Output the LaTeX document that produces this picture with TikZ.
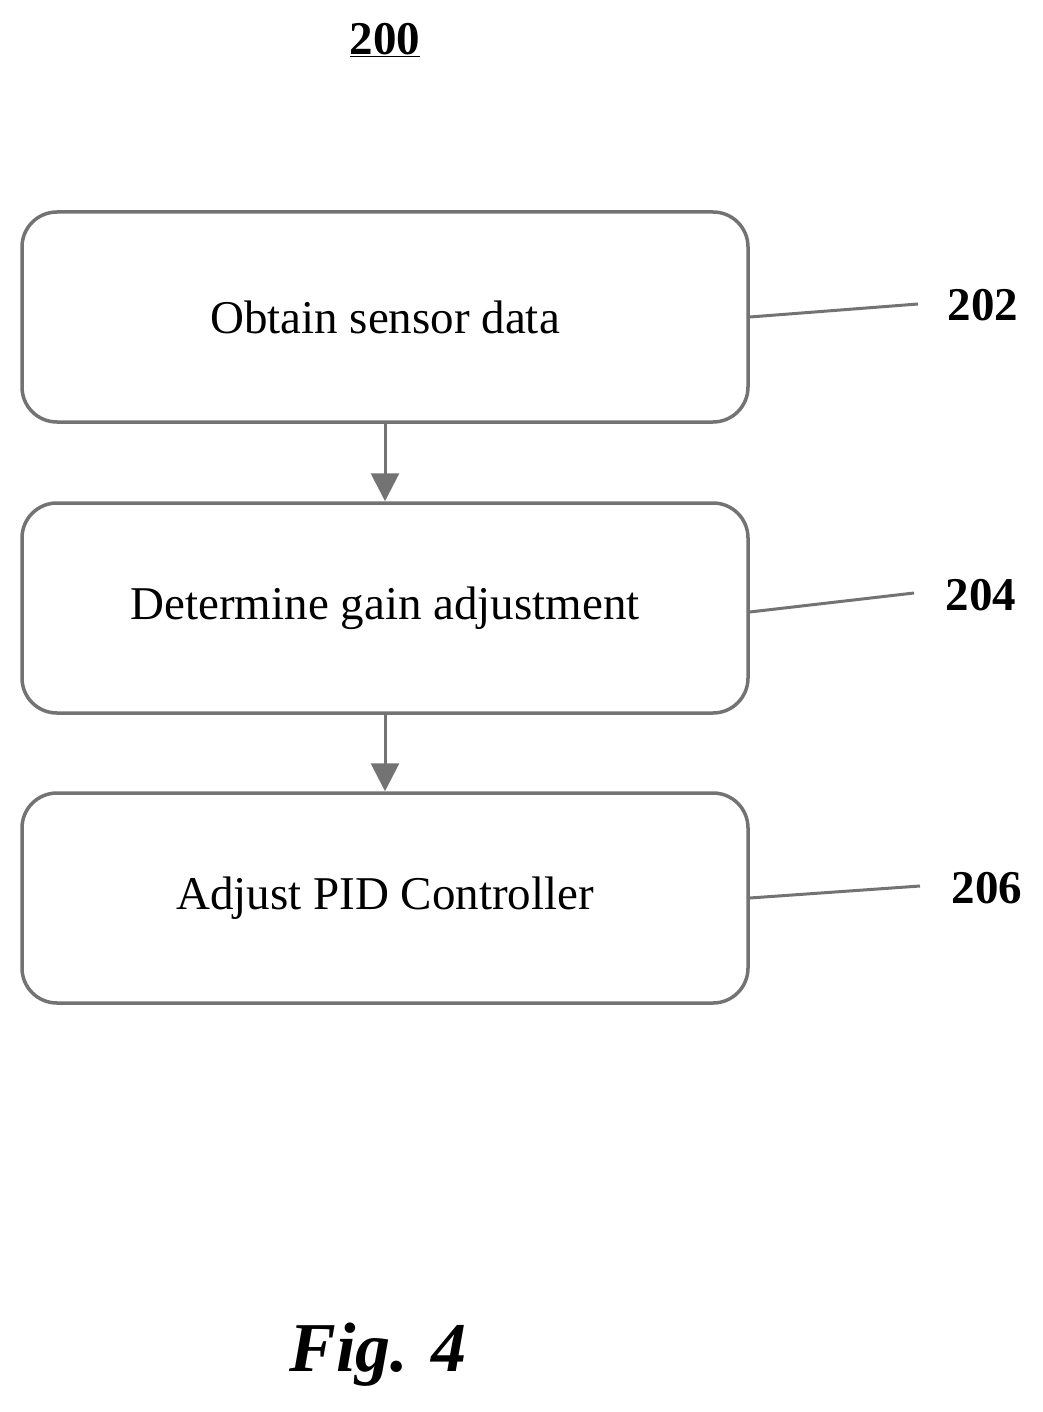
\documentclass[tikz,border=0pt]{standalone}
\usepackage{fontspec}
\setmainfont{Liberation Serif}
\usetikzlibrary{arrows.meta}
\begin{document}
\begin{tikzpicture}[x=1pt,y=-1pt,
  box/.style={draw=black!55,line width=3.5pt,rounded corners=35pt,minimum width=726pt,minimum height=210pt,inner sep=0pt,font=\fontsize{47}{56}\selectfont},
  lead/.style={draw=black!55,line width=3pt},
  num/.style={font=\fontsize{47}{56}\selectfont\bfseries},
  arr/.style={draw=black!55,line width=3pt,-{Triangle[length=28pt,width=28pt]}}]
\useasboundingbox (0,0) rectangle (1042,1412);
\node (t) at (385,40) {\fontsize{47}{56}\selectfont\bfseries\underline{200}};
\node[box] (b1) at (385,317) {Obtain sensor data};
\node[box] (b2) at (385,608) {Determine gain adjustment};
\node[box] (b3) at (385,898) {Adjust PID Controller};
\coordinate (e1) at (918,304);
\coordinate (e2) at (914,593);
\coordinate (e3) at (920,886);
\draw[lead] (b1.east) -- (e1);
\draw[lead] ([yshift=-4pt]b2.east) -- (e2);
\draw[lead] (b3.east) -- (e3);
\node[num,anchor=west] (n1) at (944,305) {202};
\node[num,anchor=west] (n2) at (942,595) {204};
\node[num,anchor=west] (n3) at (948,888) {206};
\draw[arr] (b1.south) -- (b2.north);
\draw[arr] (b2.south) -- (b3.north);
\node (f) at (378,1355) {\fontsize{70}{80}\selectfont\bfseries\itshape Fig. 4};
\end{tikzpicture}
\end{document}
